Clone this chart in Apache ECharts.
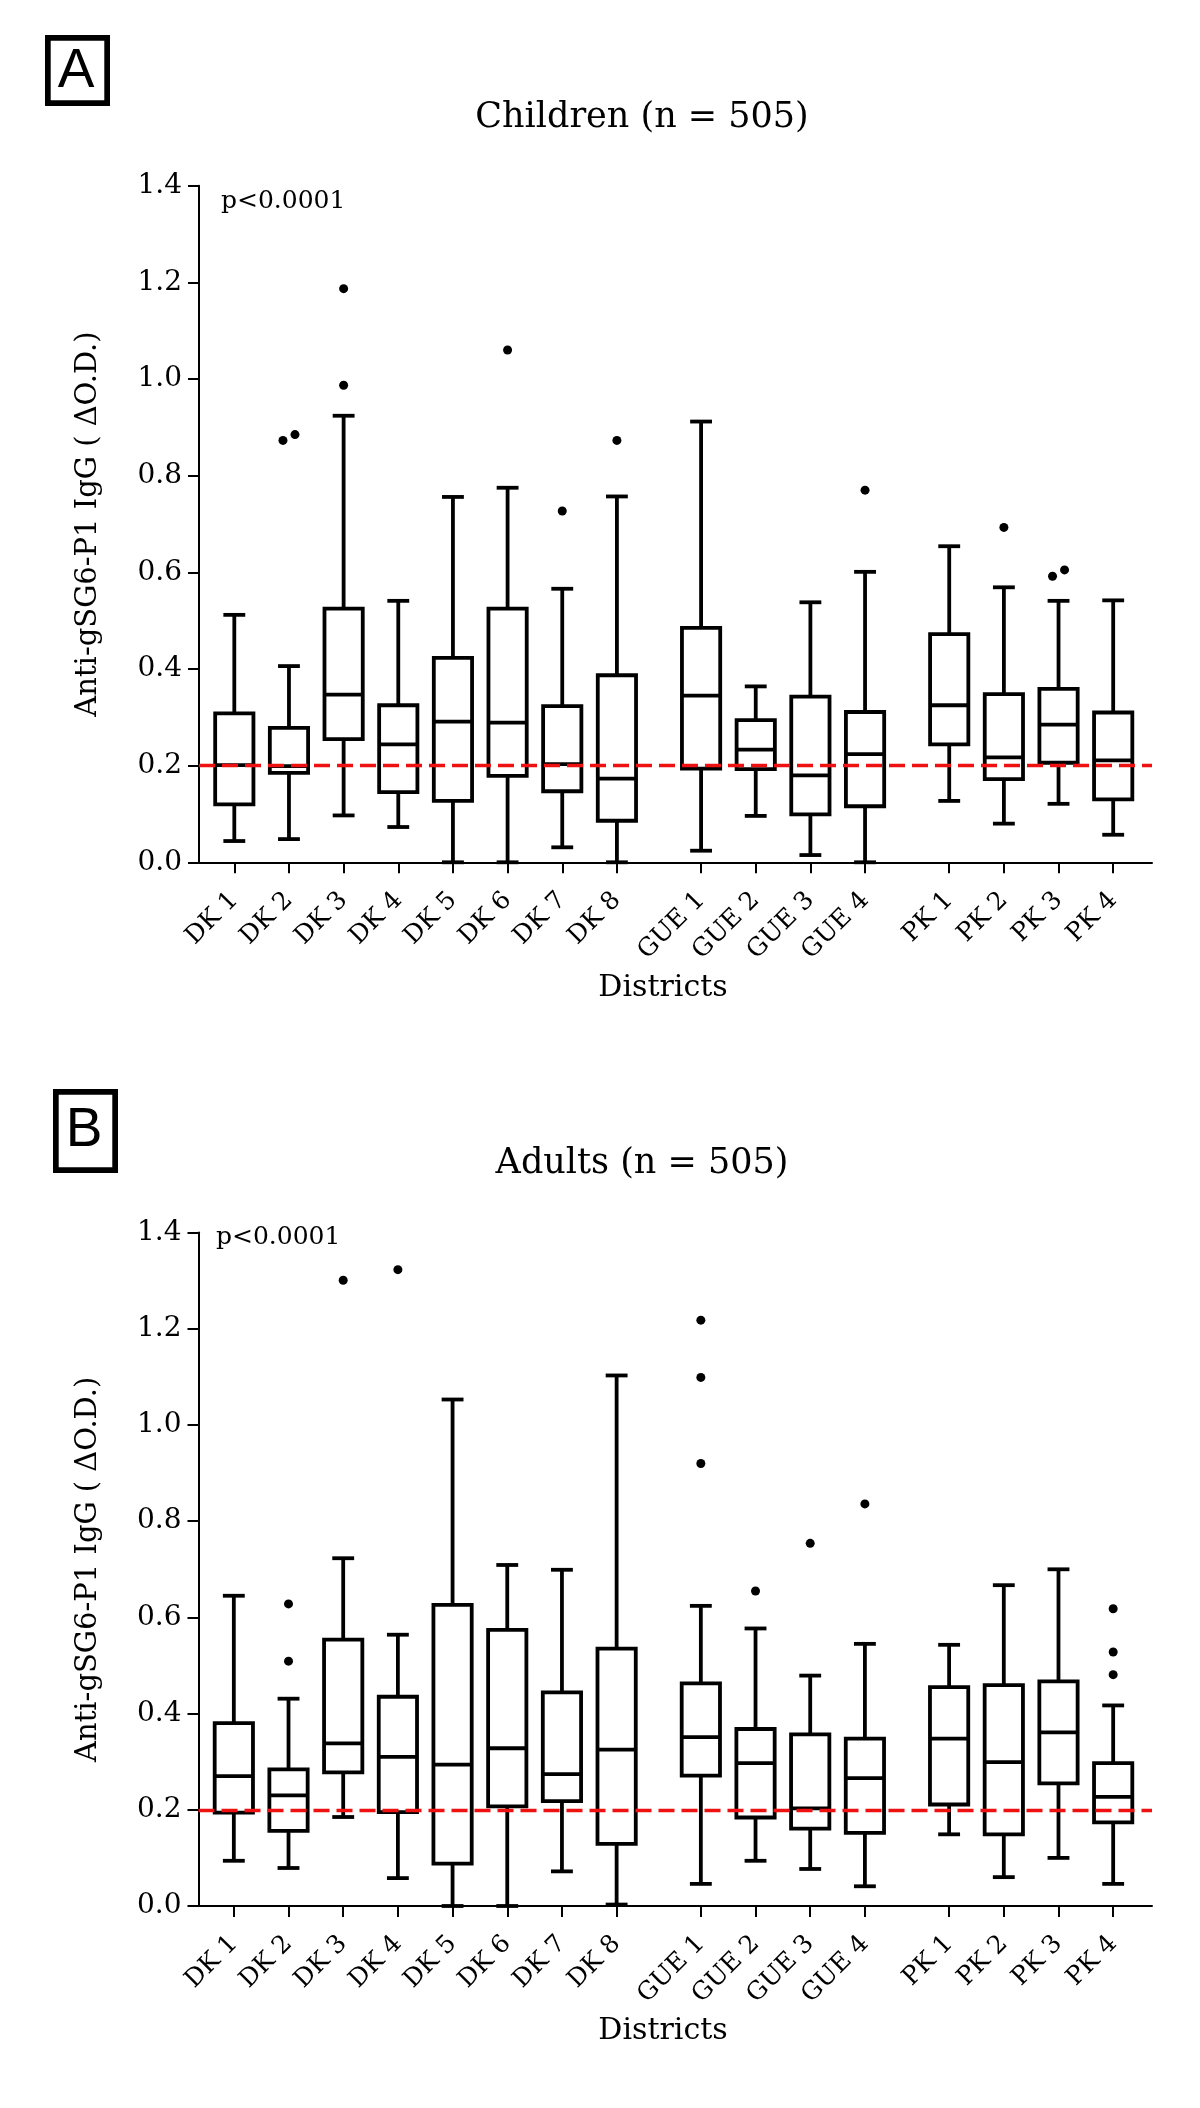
<!DOCTYPE html>
<html>
<head>
<meta charset="utf-8">
<script src="https://cdn.jsdelivr.net/npm/echarts@6/dist/echarts.min.js"></script>
<style>
html,body{margin:0;padding:0;background:#fff;}
#chart{width:1200px;height:2108px;}
</style>
</head>
<body>
<div id="chart"></div>
<script>
// ---------- data ----------
const categories = ['DK 1','DK 2','DK 3','DK 4','DK 5','DK 6','DK 7','DK 8','GUE 1','GUE 2','GUE 3','GUE 4','PK 1','PK 2','PK 3','PK 4'];
const groupOf = [0,0,0,0,0,0,0,0,1,1,1,1,2,2,2,2];
const yTickLabels = ['0.0','0.2','0.4','0.6','0.8','1.0','1.2','1.4'];
const threshold = 0.2;

// Children (panel A)
const childMin = [0.044,0.048,0.097,0.073,0.000,0.000,0.031,0.000,0.024,0.096,0.015,0.000,0.127,0.080,0.121,0.057];
const childQ1  = [0.120,0.185,0.255,0.145,0.127,0.179,0.147,0.086,0.194,0.193,0.099,0.116,0.244,0.172,0.206,0.130];
const childMed = [0.201,0.199,0.347,0.244,0.291,0.289,0.203,0.173,0.345,0.233,0.180,0.224,0.325,0.217,0.285,0.211];
const childQ3  = [0.308,0.278,0.525,0.325,0.423,0.525,0.323,0.387,0.485,0.294,0.343,0.311,0.472,0.348,0.359,0.310];
const childMax = [0.512,0.406,0.924,0.541,0.756,0.775,0.566,0.757,0.912,0.364,0.538,0.601,0.654,0.569,0.541,0.542];
const childOut = [[],[0.873,0.885],[1.187,0.987],[],[],[1.060],[0.727],[0.873],[],[],[],[0.770],[],[0.693],[0.592,0.605],[]];

// Adults (panel B)
const adMin = [0.094,0.079,0.185,0.058,0.000,0.000,0.072,0.003,0.046,0.094,0.077,0.041,0.149,0.060,0.100,0.046];
const adQ1  = [0.194,0.156,0.278,0.195,0.088,0.207,0.218,0.129,0.271,0.184,0.161,0.152,0.211,0.149,0.255,0.174];
const adMed = [0.270,0.230,0.338,0.310,0.294,0.328,0.274,0.325,0.351,0.297,0.203,0.266,0.348,0.299,0.361,0.227];
const adQ3  = [0.380,0.284,0.554,0.435,0.626,0.574,0.444,0.535,0.463,0.368,0.357,0.348,0.455,0.459,0.467,0.297];
const adMax = [0.645,0.431,0.723,0.564,1.053,0.709,0.699,1.103,0.624,0.577,0.479,0.545,0.543,0.667,0.700,0.417];
const adOut = [[],[0.628,0.509],[1.301],[1.323],[],[],[],[],[1.218,1.099,0.920],[0.655],[0.754],[0.836],[],[],[],[0.618,0.528,0.481]];

// ---------- layout helpers ----------
const GROUP_GAP = 0.54;
const positions = categories.map((c, i) => (i + 1) + groupOf[i] * GROUP_GAP);
const SERIF = '"DejaVu Serif", "Liberation Serif", serif';

function boxData(mn, q1, md, q3, mx) {
  return positions.map((p, i) => [p, mn[i], q1[i], md[i], q3[i], mx[i]]);
}
function outlierData(out) {
  const res = [];
  out.forEach((vals, i) => {
    const sorted = vals.slice().sort((a, b) => a - b);
    sorted.forEach((v, k) => {
      let jit = 0;
      const prev = sorted[k - 1], next = sorted[k + 1];
      if (next !== undefined && next - v < 0.03) jit = -0.11;
      else if (prev !== undefined && v - prev < 0.03) jit = 0.11;
      res.push([positions[i] + jit, v]);
    });
  });
  return res;
}
function renderBox(params, api) {
  const x = api.value(0);
  const lo = api.coord([x, api.value(1)]);
  const q1 = api.coord([x, api.value(2)]);
  const md = api.coord([x, api.value(3)]);
  const q3 = api.coord([x, api.value(4)]);
  const hi = api.coord([x, api.value(5)]);
  const unit = api.size([1, 0])[0];
  const hw = unit * 0.35, cw = unit * 0.2, cx = lo[0];
  const st = { stroke: '#000', lineWidth: 3.8, fill: null, lineCap: 'butt' };
  const line = (x1, y1, x2, y2) => ({ type: 'line', shape: { x1, y1, x2, y2 }, style: st });
  return {
    type: 'group',
    children: [
      line(cx, hi[1], cx, q3[1]),
      line(cx, q1[1], cx, lo[1]),
      line(cx - cw, hi[1], cx + cw, hi[1]),
      line(cx - cw, lo[1], cx + cw, lo[1]),
      { type: 'rect', shape: { x: cx - hw, y: q3[1], width: 2 * hw, height: q1[1] - q3[1] }, style: st },
      line(cx - hw, md[1], cx + hw, md[1])
    ]
  };
}

function xAxisCfg(gridIndex) {
  return {
    type: 'value', gridIndex, min: 0.354, max: 17.79,
    splitLine: { show: false },
    axisLine: { show: true, onZero: false, lineStyle: { color: '#000', width: 2 } },
    axisTick: { show: true, customValues: positions, length: 11, lineStyle: { color: '#000', width: 2 } },
    axisLabel: {
      show: true, customValues: positions, rotate: 45, margin: 34,
      color: '#000', fontFamily: SERIF, fontSize: 25,
      formatter: function (v) {
        const i = positions.findIndex(p => Math.abs(p - v) < 1e-6);
        return i >= 0 ? categories[i] : '';
      }
    }
  };
}
function yAxisCfg(gridIndex) {
  return {
    type: 'value', gridIndex, min: 0, max: 1.4, interval: 0.2,
    name: 'Anti-gSG6-P1 IgG ( \u0394O.D.)', nameLocation: 'middle', nameGap: 96,
    nameTextStyle: { color: '#000', fontFamily: SERIF, fontSize: 29 },
    splitLine: { show: false },
    axisLine: { show: true, lineStyle: { color: '#000', width: 2 } },
    axisTick: { show: true, length: 11, lineStyle: { color: '#000', width: 2 } },
    axisLabel: {
      color: '#000', fontFamily: SERIF, fontSize: 28, margin: 17,
      formatter: v => yTickLabels[Math.round(v / 0.2)]
    }
  };
}
function panelSeries(idx, mn, q1, md, q3, mx, out) {
  return [
    { type: 'custom', xAxisIndex: idx, yAxisIndex: idx, z: 2, renderItem: renderBox,
      data: boxData(mn, q1, md, q3, mx), encode: { x: 0, y: [1, 2, 3, 4, 5] }, silent: true },
    { type: 'scatter', xAxisIndex: idx, yAxisIndex: idx, z: 3, symbol: 'circle', symbolSize: 9,
      itemStyle: { color: '#000', opacity: 1 }, data: outlierData(out), silent: true,
      markLine: { silent: true, symbol: 'none', label: { show: false },
        lineStyle: { color: '#ee1111', width: 3.4, type: [16, 7], opacity: 1 },
        data: [{ yAxis: threshold }] } }
  ];
}
function txt(text, x, y, size, align, family) {
  return { type: 'text', x, y, style: { text, fill: '#000', fontSize: size, fontFamily: family || SERIF,
    align: align || 'center', verticalAlign: 'middle' } };
}
function letterBox(letter, x0, y0, x1, y1, cx, cy) {
  return [
    { type: 'rect', shape: { x: x0 + 2.85, y: y0 + 2.85, width: x1 - x0 - 5.7, height: y1 - y0 - 5.7 },
      style: { fill: null, stroke: '#000', lineWidth: 5.7 } },
    txt(letter, cx, cy, 55, 'center', '"Liberation Sans", Arial, sans-serif')
  ];
}

const chart = echarts.init(document.getElementById('chart'), null, { renderer: 'canvas' });
chart.setOption({
  backgroundColor: '#fff',
  animation: false,
  grid: [
    { left: 199, right: 48, top: 185.7, bottom: 2108 - 862.3 },
    { left: 198.5, right: 48, top: 1232.6, bottom: 2108 - 1906 }
  ],
  xAxis: [xAxisCfg(0), xAxisCfg(1)],
  yAxis: [yAxisCfg(0), yAxisCfg(1)],
  series: [].concat(
    panelSeries(0, childMin, childQ1, childMed, childQ3, childMax, childOut),
    panelSeries(1, adMin, adQ1, adMed, adQ3, adMax, adOut)
  ),
  graphic: [].concat(
    letterBox('A', 45, 35, 110, 106, 76, 72),
    letterBox('B', 53, 1089, 118, 1173, 84, 1131),
    [
      txt('Children (n = 505)', 642, 118, 35),
      txt('Adults (n = 505)', 642, 1164, 35),
      txt('p<0.0001', 221, 201, 25, 'left'),
      txt('p<0.0001', 216, 1237, 25, 'left'),
      txt('Districts', 663, 988, 30),
      txt('Districts', 663, 2031, 30)
    ]
  )
});
</script>
</body>
</html>
